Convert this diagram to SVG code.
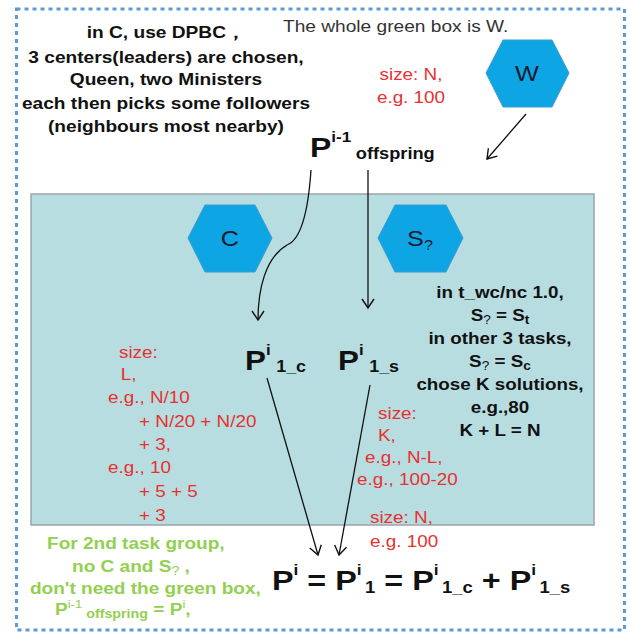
<svg xmlns="http://www.w3.org/2000/svg" width="627" height="632" viewBox="0 0 627 632">
<style>
.b{font-family:"Liberation Sans",Arial,sans-serif;font-weight:bold;fill:#111}
.r{font-family:"Liberation Sans",Arial,sans-serif;fill:#e8312f;font-size:16px}
.g{font-family:"Liberation Sans",Arial,sans-serif;font-weight:bold;fill:#92d050;font-size:16px}
.hex{fill:#0ea5e4;stroke:#3b9bd0;stroke-width:1}
.ht{font-family:"Liberation Sans",Arial,sans-serif;font-size:22px;fill:#1a1a2e;text-anchor:middle}
.c{fill:none;stroke:#111;stroke-width:1.3}
.P{font-size:28px}
.sup{font-size:15px}
.sub{font-size:16px}
</style>
<defs>
<marker id="ah" markerWidth="14" markerHeight="14" refX="10" refY="7" orient="auto" markerUnits="userSpaceOnUse">
<path d="M1,1 L10,7 L1,13" fill="none" stroke="#111" stroke-width="1.4"/>
</marker>
</defs>
<rect width="627" height="632" fill="#fff"/>
<rect id="frame" x="16.5" y="9" width="608" height="621" fill="none" stroke="#5b9bd5" stroke-width="3" stroke-dasharray="4,4"/>
<g id="greenbox"><rect x="31" y="194" width="563" height="331" fill="#b7dde1" stroke="#9aa5a6" stroke-width="1.5"/></g>

<g id="intro" class="b" font-size="16.5" text-anchor="middle" transform="matrix(1.16,0,0,1,-26.56,0)">
<text x="166" y="38">in C, use DPBC，</text>
<text x="166" y="63">3 centers(leaders) are chosen,</text>
<text x="166" y="85">Queen, two Ministers</text>
<text x="166" y="109">each then picks some followers</text>
<text x="166" y="132">(neighbours most nearby)</text>
</g>
<g id="wnote" transform="matrix(1.16,0,0,1,-45.28,0)"><text x="283" y="32" font-family="Liberation Sans,Arial,sans-serif" font-size="16.5" fill="#333">The whole green box is W.</text></g>
<g id="sizeN1" class="r" text-anchor="middle" transform="matrix(1.18,0,0,1,-73.98,0)"><text x="411" y="80">size: N,</text><text x="411" y="103">e.g. 100</text></g>

<g id="W"><polygon class="hex" points="486,73 503,40 552,40 569,73 552,107 503,107"/><text class="ht" x="527" y="81" transform="matrix(1.15,0,0,1,-79.05,0)">W</text></g>
<g id="C"><polygon class="hex" points="188,238 205,205 255,205 272,238 255,272 205,272"/><text class="ht" x="230" y="246" transform="matrix(1.15,0,0,1,-34.5,0)">C</text></g>
<g id="S"><polygon class="hex" points="378,238 395,205 446,205 463,238 446,272 395,272"/><text class="ht" x="420" y="246" transform="matrix(1.15,0,0,1,-63,0)">S<tspan font-size="14" dy="4">?</tspan></text></g>

<g id="Poff" class="b" transform="matrix(1.14,0,0,1,-43.4,0)"><text x="310" y="157"><tspan class="P">P</tspan><tspan class="sup" dy="-15">i-1</tspan><tspan class="sub" dx="4" dy="17">offspring</tspan></text></g>
<g id="P1c" class="b" transform="matrix(1.12,0,0,1,-29.4,0)"><text x="245" y="370"><tspan class="P">P</tspan><tspan class="sup" dy="-15">i</tspan><tspan class="sub" dx="5" dy="17">1_c</tspan></text></g>
<g id="P1s" class="b" transform="matrix(1.12,0,0,1,-40.56,0)"><text x="338" y="370"><tspan class="P">P</tspan><tspan class="sup" dy="-15">i</tspan><tspan class="sub" dx="5" dy="17">1_s</tspan></text></g>

<g id="sizeL" class="r" transform="matrix(1.18,0,0,1,-19.44,0)">
<text x="117.3" y="358">size:</text>
<text x="118.9" y="380">L,</text>
<text x="108" y="403">e.g., N/10</text>
<text x="134.3" y="427">+ N/20 + N/20</text>
<text x="134.3" y="450">+ 3,</text>
<text x="108" y="473">e.g., 10</text>
<text x="134.3" y="497">+ 5 + 5</text>
<text x="134.3" y="521">+ 3</text>
</g>

<g id="rightnote" class="b" font-size="16.5" text-anchor="middle" transform="matrix(1.14,0,0,1,-70,0)">
<text x="500" y="298">in t_wc/nc 1.0,</text>
<text x="500" y="321">S<tspan font-size="12" dy="3" font-weight="normal">?</tspan><tspan dy="-3">  = S</tspan><tspan font-size="12" dy="3">t</tspan></text>
<text x="500" y="344">in other 3 tasks,</text>
<text x="500" y="367">S<tspan font-size="12" dy="3" font-weight="normal">?</tspan><tspan dy="-3">  = S</tspan><tspan font-size="12" dy="3">c</tspan></text>
<text x="500" y="390">chose K solutions,</text>
<text x="500" y="413">e.g.,80</text>
<text x="500" y="436">K + L = N</text>
</g>

<g id="sizeK" class="r" transform="matrix(1.18,0,0,1,-64.26,0)">
<text x="374.8" y="419">size:</text>
<text x="374.8" y="441">K,</text>
<text x="363.8" y="463">e.g., N-L,</text>
<text x="357" y="485">e.g., 100-20</text>
<text x="368" y="523">size: N,</text>
<text x="368" y="547">e.g. 100</text>
</g>

<g id="greennote" class="g" transform="matrix(1.19,0,0,1,-5.7,0)">
<text x="44.3" y="549">For 2nd task group,</text>
<text x="65.3" y="572">no C and  S<tspan font-size="12" font-weight="normal" dy="3">?</tspan><tspan dy="-3"> ,</tspan></text>
<text x="30" y="594">don't need the green box,</text>
<text x="51" y="615">P<tspan font-size="11" dy="-7" font-weight="normal">i-1</tspan><tspan font-size="12" dy="10"> offspring</tspan><tspan dy="-3"> =  P</tspan><tspan font-size="11" dy="-7" font-weight="normal">i</tspan><tspan dy="7">,</tspan></text>
</g>

<g id="equation" class="b" transform="matrix(1.155,0,0,1,-42.16,0)"><text x="272" y="590"><tspan class="P">P</tspan><tspan class="sup" dy="-15">i</tspan><tspan class="P" dy="15"> = P</tspan><tspan class="sup" dy="-15">i</tspan><tspan class="sub" dx="3" dy="18">1</tspan><tspan class="P" dy="-3"> = P</tspan><tspan class="sup" dy="-15">i</tspan><tspan class="sub" dx="3" dy="18">1_c</tspan><tspan class="P" dy="-3"> +  P</tspan><tspan class="sup" dy="-15">i</tspan><tspan class="sub" dx="3" dy="18">1_s</tspan></text></g>

<g id="connectors">
<path class="c" d="M526,114 L487,159" marker-end="url(#ah)"/>
<path class="c" d="M311,170 C308,215 300,240 287,245 C265,258 258,290 258,320" marker-end="url(#ah)"/>
<path class="c" d="M368,170 L368,308" marker-end="url(#ah)"/>
<path class="c" d="M267,378 L318,555" marker-end="url(#ah)"/>
<path class="c" d="M370,385 L339,555" marker-end="url(#ah)"/>
</g>
</svg>
